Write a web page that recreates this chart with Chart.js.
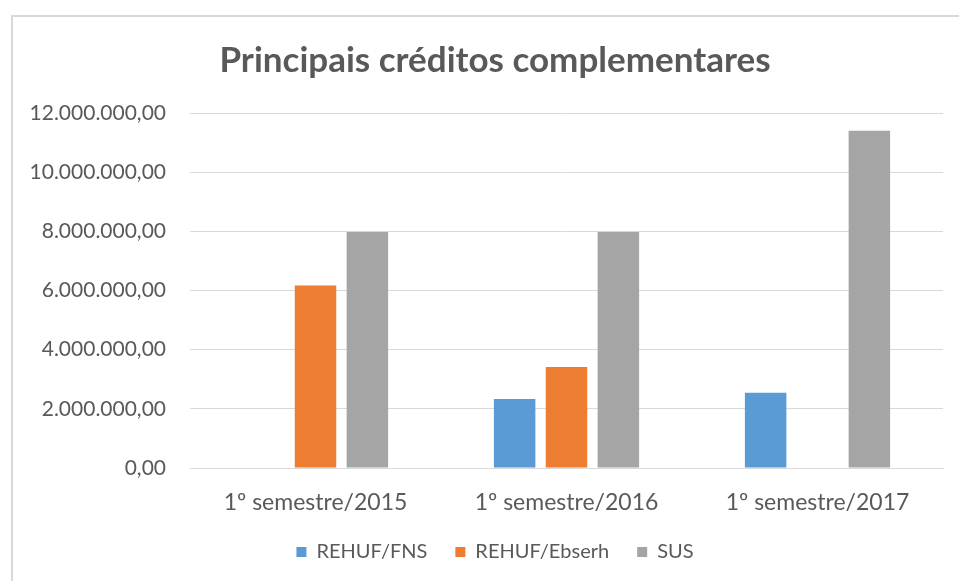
<!DOCTYPE html>
<html lang="pt">
<head>
  <meta charset="UTF-8" />
  <title>Principais créditos complementares</title>
  <script src="https://cdn.jsdelivr.net/npm/chart.js"></script>
  <style>
    html, body { margin: 0; padding: 0; background: #fff; overflow: hidden; }
    #box {
      position: absolute; left: 11px; top: 15px; width: 960px; height: 580px;
      border-left: 2px solid #d9d9d9; border-top: 2px solid #d9d9d9;
    }
  </style>
</head>
<body>
  <div id="box"><canvas id="chart"></canvas></div>

  <script>
    // dados
    const categorias = ['1º semestre/2015', '1º semestre/2016', '1º semestre/2017'];
    const rehufFns = [null, 2330000, 2540000];
    const rehufEbserh = [6170000, 3410000, null];
    const sus = [7980000, 7980000, 11400000];

    const cinza = '#595959';
    const fonte = 'Lato, "Open Sans", sans-serif';

    // 12000000 -> "12.000.000,00"
    function formatar(v) {
      const inteiro = Math.round(v).toString().replace(/\B(?=(\d{3})+(?!\d))/g, '.');
      return inteiro + ',00';
    }

    new Chart(document.getElementById('chart'), {
      type: 'bar',
      data: {
        labels: categorias,
        datasets: [
          { label: 'REHUF/FNS', data: rehufFns, backgroundColor: '#5b9bd5' },
          { label: 'REHUF/Ebserh', data: rehufEbserh, backgroundColor: '#ed7d31' },
          { label: 'SUS', data: sus, backgroundColor: '#a5a5a5' }
        ]
      },
      options: {
        responsive: true,
        maintainAspectRatio: false,
        animation: false,
        datasets: { bar: { categoryPercentage: 0.62, barPercentage: 0.8 } },
        layout: { padding: { top: 23, right: 8, left: 12, bottom: 25 } },
        plugins: {
          title: {
            display: true,
            text: 'Principais créditos complementares',
            color: cinza,
            font: { family: fonte, size: 35, weight: 'bold' },
            padding: { top: 0, bottom: 31 }
          },
          legend: {
            position: 'bottom',
            labels: {
              color: cinza,
              font: { family: fonte, size: 20 },
              boxWidth: 10,
              boxHeight: 10,
              padding: 28
            }
          },
          tooltip: { enabled: false }
        },
        scales: {
          x: {
            grid: { display: false },
            border: { color: '#d9d9d9' },
            ticks: { color: cinza, font: { family: fonte, size: 23 }, padding: 13 },
            afterFit: s => { s.height = 46; }
          },
          y: {
            min: 0,
            max: 12000000,
            grid: { color: '#d9d9d9', drawTicks: false },
            border: { display: false },
            ticks: {
              stepSize: 2000000,
              color: cinza,
              font: { family: fonte, size: 21 },
              padding: 24,
              callback: v => formatar(v)
            },
            afterFit: s => { s.width = 165; }
          },
          // margem vazia à direita, só para centralizar título e legenda como no original
          margem: {
            type: 'linear',
            position: 'right',
            grid: { display: false },
            border: { display: false },
            ticks: { display: false },
            afterFit: s => { s.width = 22; }
          }
        }
      }
    });
  </script>
</body>
</html>
